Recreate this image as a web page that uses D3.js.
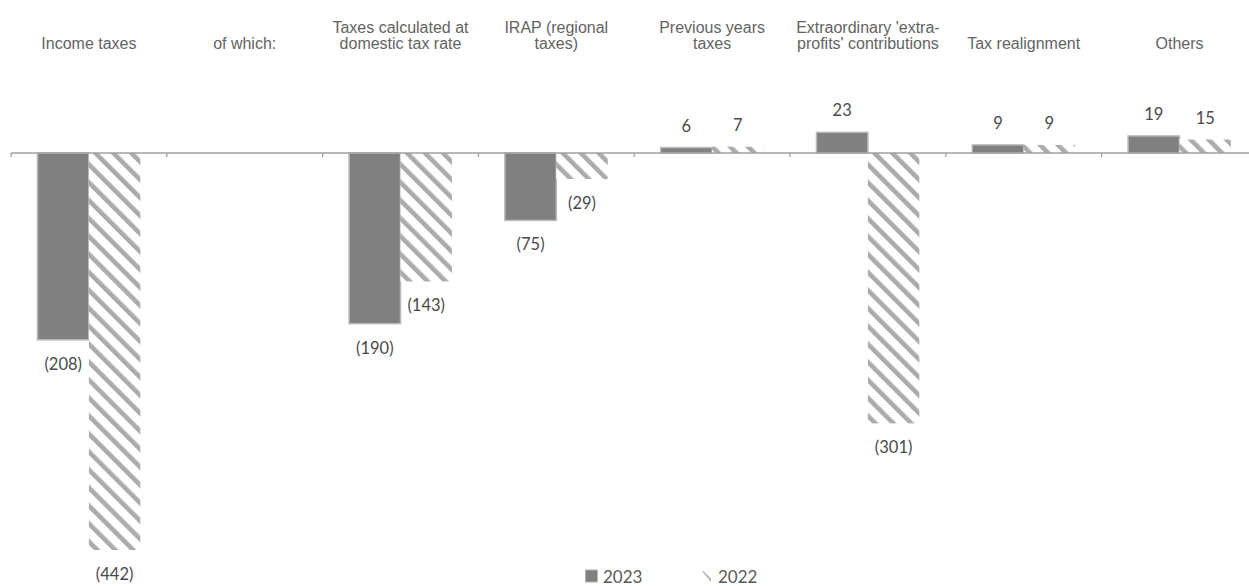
<!DOCTYPE html>
<html>
<head>
<meta charset="utf-8">
<script src="https://cdn.jsdelivr.net/npm/d3@7"></script>
<style>
  html, body { margin: 0; padding: 0; background: #fff; }
  svg { display: block; }
</style>
</head>
<body>
<svg id="chart" width="1249" height="586"></svg>
<script>
// ---- data ----
const categories = [
  "Income taxes",
  "of which:",
  "Taxes calculated at\ndomestic tax rate",
  "IRAP (regional\ntaxes)",
  "Previous years\ntaxes",
  "Extraordinary 'extra-\nprofits' contributions",
  "Tax realignment",
  "Others"
];
const seriesNames = ["2023", "2022"];
const values2023 = [-208, null, -190, -75, 6, 23, 9, 19];
const values2022 = [-442, null, -143, -29, 7, -301, 9, 15];
const labelFormat = v => v < 0 ? "(" + Math.abs(v) + ")" : String(v);

// ---- layout ----
const W = 1249, H = 586;
const svg = d3.select("#chart");
const x = d3.scaleBand().domain(categories).range([11, 1257.4]).paddingInner(0).paddingOuter(0);
const x1 = d3.scaleBand().domain(seriesNames).range([0, x.bandwidth()]).paddingInner(0).paddingOuter(0.515);
const y = d3.scaleLinear().domain([-442, 0]).range([550, 153]);

// hatch pattern
const defs = svg.append("defs");
const pat = defs.append("pattern")
  .attr("id", "hatch")
  .attr("patternUnits", "userSpaceOnUse")
  .attr("width", 12.7).attr("height", 12.7)
  .attr("patternTransform", "rotate(-45)");
pat.append("rect").attr("width", 12.7).attr("height", 12.7).attr("fill", "#fff");
pat.append("rect").attr("x", 0).attr("y", 0).attr("width", 4.6).attr("height", 12.7).attr("fill", "#ababab");

const rows = categories.map((c, i) => ({
  cat: c,
  vals: [
    { s: "2023", v: values2023[i] },
    { s: "2022", v: values2022[i] }
  ]
}));

// category labels
const catG = svg.append("g")
  .attr("font-family", "'Liberation Sans', Arial, sans-serif")
  .attr("font-size", 16)
  .attr("fill", "#636363")
  .attr("text-anchor", "middle");
categories.forEach(c => {
  const lines = c.split("\n");
  const t = catG.append("text").attr("x", x(c) + x.bandwidth() / 2);
  lines.forEach((ln, j) => {
    t.append("tspan")
      .attr("x", x(c) + x.bandwidth() / 2)
      .attr("y", 48.5 - (lines.length - 1 - j) * 15.5)
      .text(ln);
  });
});

// bars
const groups = svg.append("g").selectAll("g").data(rows).join("g")
  .attr("transform", d => `translate(${x(d.cat)},0)`);

groups.selectAll("rect")
  .data(d => d.vals.filter(e => e.v !== null))
  .join("rect")
  .attr("x", e => x1(e.s))
  .attr("width", x1.bandwidth())
  .attr("y", e => Math.min(y(e.v), y(0)))
  .attr("height", e => Math.abs(y(e.v) - y(0)))
  .attr("fill", e => e.s === "2023" ? "#808080" : "url(#hatch)")
  .attr("stroke", e => e.s === "2023" ? "#b8b8b8" : "none")
  .attr("stroke-width", 1.5);

// data labels
groups.selectAll("text.lbl")
  .data(d => d.vals.filter(e => e.v !== null))
  .join("text")
  .attr("class", "lbl")
  .attr("x", e => x1(e.s) + x1.bandwidth() / 2)
  .attr("y", e => e.v < 0 ? y(e.v) + 24 : y(e.v) - 22)
  .attr("dominant-baseline", "central")
  .attr("text-anchor", "middle")
  .attr("font-family", "Lato, 'Open Sans', sans-serif")
  .attr("font-size", 16.5)
  .attr("fill", "#4a4a4a")
  .text(e => labelFormat(e.v));

// axis line + ticks at category boundaries
const axisG = svg.append("g");
axisG.append("line")
  .attr("x1", x(categories[0])).attr("x2", W)
  .attr("y1", y(0)).attr("y2", y(0))
  .attr("stroke", "#a0a0a0").attr("stroke-width", 1.3);
axisG.selectAll("line.tick")
  .data(categories)
  .join("line")
  .attr("class", "tick")
  .attr("x1", c => x(c)).attr("x2", c => x(c))
  .attr("y1", y(0)).attr("y2", y(0) + 4)
  .attr("stroke", "#a0a0a0").attr("stroke-width", 1.3);

// legend
const leg = svg.append("g")
  .attr("font-family", "Lato, 'Open Sans', sans-serif")
  .attr("font-size", 17)
  .attr("fill", "#595959");
leg.append("rect").attr("x", 585.5).attr("y", 570).attr("width", 12).attr("height", 12)
  .attr("fill", "#808080").attr("stroke", "#b8b8b8").attr("stroke-width", 1);
leg.append("text").attr("x", 603).attr("y", 576).attr("dominant-baseline", "central").text(seriesNames[0]);
// small hatched swatch (triangle-like as in reference)
leg.append("path").attr("d", "M702,571 L711,571 L711,582 Z").attr("fill", "url(#hatch)");
leg.append("text").attr("x", 718).attr("y", 576).attr("dominant-baseline", "central").text(seriesNames[1]);
</script>
</body>
</html>
